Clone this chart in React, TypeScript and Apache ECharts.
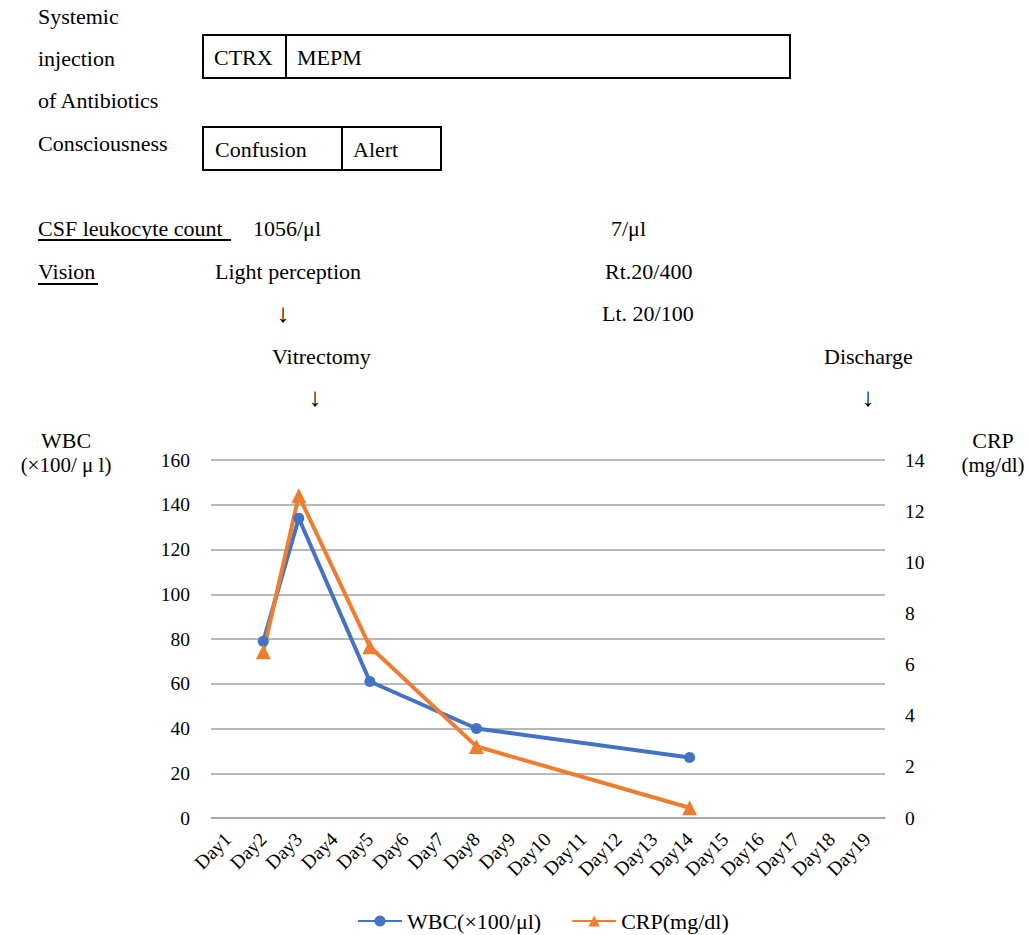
import React, { useEffect, useRef } from "react";
import * as echarts from "echarts";

const days = ["Day1","Day2","Day3","Day4","Day5","Day6","Day7","Day8","Day9","Day10","Day11","Day12","Day13","Day14","Day15","Day16","Day17","Day18","Day19"];
const wbc: (number | null)[] = [null, 79, 134, null, 61, null, null, 40, null, null, null, null, null, 27, null, null, null, null, null];
const crp: (number | null)[] = [null, 6.5, 12.6, null, 6.7, null, null, 2.8, null, null, null, null, null, 0.4, null, null, null, null, null];
const wbcTicks = { min: 0, max: 160, interval: 20 };
const crpTicks = { min: 0, max: 14, interval: 2 };

const FONT = "'Liberation Serif', 'DejaVu Serif', serif";
const GRID_GRAY = "#A0A0A0";

export default function App() {
  const ref = useRef<HTMLDivElement>(null);
  useEffect(() => {
    if (!ref.current) return;
    const chart = echarts.init(ref.current, undefined, { renderer: "svg" });
    const txt = (text: string, x: number, y: number, align: string = "left", size = 22) => ({
      type: "text",
      x,
      y,
      style: { text, fill: "#000", font: `${size}px ${FONT}`, textAlign: align, textVerticalAlign: "middle" },
    });
    const rect = (x: number, y: number, w: number, h: number) => ({
      type: "rect",
      shape: { x, y, width: w, height: h },
      style: { fill: "none", stroke: "#000", lineWidth: 2 },
    });
    const line = (x1: number, y1: number, x2: number, y2: number) => ({
      type: "line",
      shape: { x1, y1, x2, y2 },
      style: { stroke: "#000", lineWidth: 2 },
    });
    chart.setOption({
      animation: false,
      textStyle: { fontFamily: FONT },
      grid: { show: false, left: 210, right: 144, top: 460, bottom: 117, containLabel: false },
      legend: {
        top: 905,
        left: 352,
        itemWidth: 44,
        itemHeight: 14,
        itemGap: 30,
        textStyle: { fontSize: 22, color: "#000", fontFamily: FONT },
        data: ["WBC(×100/μl)", "CRP(mg/dl)"],
      },
      xAxis: {
        type: "category",
        data: days,
        axisLine: { show: true, lineStyle: { color: GRID_GRAY, width: 1.5 } },
        axisTick: { show: false },
        splitLine: { show: false },
        axisLabel: { rotate: 45, fontSize: 19.5, color: "#000", fontFamily: FONT, interval: 0, margin: 18 },
      },
      yAxis: [
        {
          type: "value",
          ...wbcTicks,
          axisLine: { show: false },
          axisTick: { show: false },
          axisLabel: { fontSize: 19.5, color: "#000", fontFamily: FONT, margin: 20 },
          splitLine: { lineStyle: { color: GRID_GRAY, width: 1.5 } },
        },
        {
          type: "value",
          ...crpTicks,
          axisLine: { show: false },
          axisTick: { show: false },
          axisLabel: { fontSize: 19.5, color: "#000", fontFamily: FONT, margin: 20 },
          splitLine: { show: false },
        },
      ],
      series: [
        {
          name: "WBC(×100/μl)",
          type: "line",
          data: wbc,
          yAxisIndex: 0,
          connectNulls: true,
          symbol: "circle",
          symbolSize: 11,
          itemStyle: { color: "#4472C4" },
          lineStyle: { color: "#4472C4", width: 4 },
        },
        {
          name: "CRP(mg/dl)",
          type: "line",
          data: crp,
          yAxisIndex: 1,
          connectNulls: true,
          symbol: "triangle",
          symbolSize: 15,
          itemStyle: { color: "#ED7D31" },
          lineStyle: { color: "#ED7D31", width: 4 },
        },
      ],
      graphic: [
        {
          type: "rect",
          z: 100,
          shape: { x: 204, y: 450, width: 7, height: 380 },
          style: { fill: "#fff", stroke: "none" },
        },
        txt("Systemic", 38, 16),
        txt("injection", 38, 58),
        txt("of Antibiotics", 38, 100),
        txt("Consciousness", 38, 143),
        rect(203, 35, 587, 43),
        line(286, 35, 286, 78),
        txt("CTRX", 214, 57),
        txt("MEPM", 297, 57),
        rect(203, 127, 238, 43),
        line(342, 127, 342, 170),
        txt("Confusion", 215, 149),
        txt("Alert", 353, 149),
        txt("CSF leukocyte count", 38, 228),
        line(38, 240, 231, 240),
        txt("1056/μl", 253, 228),
        txt("7/μl", 611, 228),
        txt("Vision", 38, 271),
        line(38, 284, 98, 284),
        txt("Light perception", 215, 271),
        txt("Rt.20/400", 605, 271),
        txt("↓", 283, 313, "center", 26),
        txt("Lt. 20/100", 602, 313),
        txt("Vitrectomy", 272, 356),
        txt("Discharge", 824, 356),
        txt("↓", 315, 397, "center", 26),
        txt("↓", 868, 397, "center", 26),
        txt("WBC", 66, 440, "center", 22),
        txt("(×100/ μ l)", 66, 465, "center", 21),
        txt("CRP", 993, 440, "center", 22),
        txt("(mg/dl)", 993, 465, "center", 21),
      ],
    });
    return () => chart.dispose();
  }, []);
  return <div ref={ref} style={{ width: 1029, height: 935, position: "absolute", left: 0, top: 0 }} />;
}
